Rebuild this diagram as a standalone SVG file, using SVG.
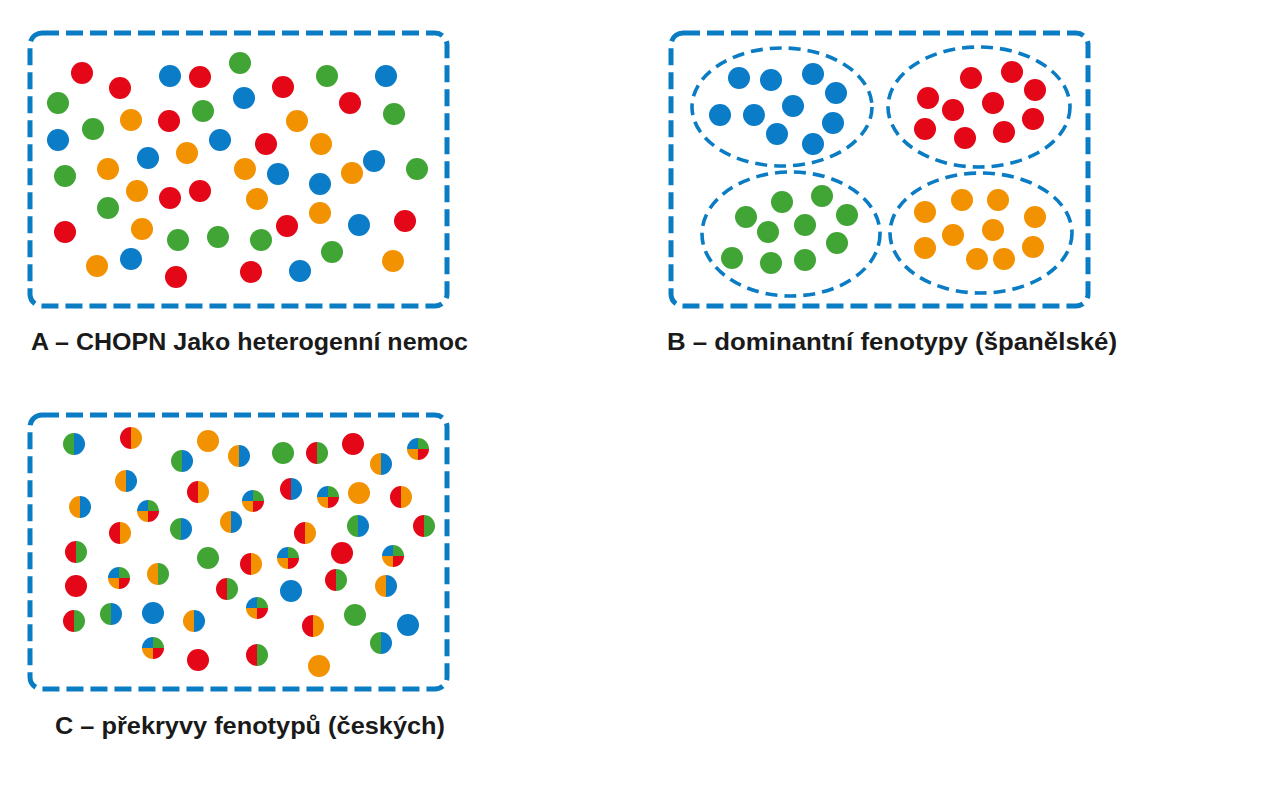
<svg xmlns="http://www.w3.org/2000/svg" xmlns:xlink="http://www.w3.org/1999/xlink" width="1261" height="800" viewBox="0 0 1261 800">
<style>
.frame{fill:none;stroke:#0a7cc4;stroke-width:5;stroke-dasharray:17 7}
.ell{fill:none;stroke:#0a7cc4;stroke-width:3.6;stroke-dasharray:12 7}
.R{fill:#e30717}.B{fill:#0a7cc8}.G{fill:#40a535}.O{fill:#f39200}
.lbl{font-family:"Liberation Sans",Arial,sans-serif;font-weight:bold;font-size:24px;fill:#1a1a1a}
</style>
<defs>
<g id="gb"><path class="G" d="M0,-11A11,11 0 0 0 0,11Z"/><path class="B" d="M0,-11A11,11 0 0 1 0,11Z"/></g>
<g id="ro"><path class="R" d="M0,-11A11,11 0 0 0 0,11Z"/><path class="O" d="M0,-11A11,11 0 0 1 0,11Z"/></g>
<g id="rg"><path class="R" d="M0,-11A11,11 0 0 0 0,11Z"/><path class="G" d="M0,-11A11,11 0 0 1 0,11Z"/></g>
<g id="ob"><path class="O" d="M0,-11A11,11 0 0 0 0,11Z"/><path class="B" d="M0,-11A11,11 0 0 1 0,11Z"/></g>
<g id="rb"><path class="R" d="M0,-11A11,11 0 0 0 0,11Z"/><path class="B" d="M0,-11A11,11 0 0 1 0,11Z"/></g>
<g id="og"><path class="O" d="M0,-11A11,11 0 0 0 0,11Z"/><path class="G" d="M0,-11A11,11 0 0 1 0,11Z"/></g>
<g id="q"><path class="B" d="M0,0L0,-11A11,11 0 0 0 -11,0Z"/><path class="G" d="M0,0L11,0A11,11 0 0 0 0,-11Z"/><path class="O" d="M0,0L-11,0A11,11 0 0 0 0,11Z"/><path class="R" d="M0,0L0,11A11,11 0 0 0 11,0Z"/></g>
</defs>
<rect width="1261" height="800" fill="#fff"/>

<g id="panelA">
<rect class="frame" x="30" y="33" width="417" height="273" rx="12"/>
<circle class="R" cx="82" cy="73" r="11"/>
<circle class="R" cx="120" cy="88" r="11"/>
<circle class="B" cx="170" cy="76" r="11"/>
<circle class="R" cx="200" cy="77" r="11"/>
<circle class="G" cx="240" cy="63" r="11"/>
<circle class="R" cx="283" cy="87" r="11"/>
<circle class="G" cx="327" cy="76" r="11"/>
<circle class="B" cx="386" cy="76" r="11"/>
<circle class="G" cx="58" cy="103" r="11"/>
<circle class="B" cx="244" cy="98" r="11"/>
<circle class="R" cx="350" cy="103" r="11"/>
<circle class="G" cx="394" cy="114" r="11"/>
<circle class="O" cx="131" cy="120" r="11"/>
<circle class="R" cx="169" cy="121" r="11"/>
<circle class="G" cx="203" cy="111" r="11"/>
<circle class="O" cx="297" cy="121" r="11"/>
<circle class="B" cx="58" cy="140" r="11"/>
<circle class="G" cx="93" cy="129" r="11"/>
<circle class="B" cx="220" cy="140" r="11"/>
<circle class="R" cx="266" cy="144" r="11"/>
<circle class="O" cx="321" cy="144" r="11"/>
<circle class="B" cx="148" cy="158" r="11"/>
<circle class="O" cx="187" cy="153" r="11"/>
<circle class="B" cx="374" cy="161" r="11"/>
<circle class="G" cx="417" cy="169" r="11"/>
<circle class="G" cx="65" cy="176" r="11"/>
<circle class="O" cx="108" cy="169" r="11"/>
<circle class="O" cx="245" cy="169" r="11"/>
<circle class="B" cx="278" cy="174" r="11"/>
<circle class="O" cx="352" cy="173" r="11"/>
<circle class="B" cx="320" cy="184" r="11"/>
<circle class="O" cx="137" cy="191" r="11"/>
<circle class="R" cx="170" cy="198" r="11"/>
<circle class="R" cx="200" cy="191" r="11"/>
<circle class="O" cx="257" cy="199" r="11"/>
<circle class="G" cx="108" cy="208" r="11"/>
<circle class="O" cx="320" cy="213" r="11"/>
<circle class="R" cx="287" cy="226" r="11"/>
<circle class="B" cx="359" cy="225" r="11"/>
<circle class="R" cx="405" cy="221" r="11"/>
<circle class="R" cx="65" cy="232" r="11"/>
<circle class="O" cx="142" cy="229" r="11"/>
<circle class="G" cx="178" cy="240" r="11"/>
<circle class="G" cx="218" cy="237" r="11"/>
<circle class="G" cx="261" cy="240" r="11"/>
<circle class="G" cx="332" cy="252" r="11"/>
<circle class="O" cx="97" cy="266" r="11"/>
<circle class="B" cx="131" cy="259" r="11"/>
<circle class="R" cx="176" cy="277" r="11"/>
<circle class="R" cx="251" cy="272" r="11"/>
<circle class="B" cx="300" cy="271" r="11"/>
<circle class="O" cx="393" cy="261" r="11"/>
<text class="lbl" x="31" y="350" textLength="437" lengthAdjust="spacingAndGlyphs">A – CHOPN Jako heterogenní nemoc</text>
</g>

<g id="panelB">
<rect class="frame" x="671" y="33" width="417" height="273" rx="12"/>
<ellipse class="ell" cx="782" cy="107" rx="90" ry="59"/>
<ellipse class="ell" cx="979" cy="107" rx="91" ry="60"/>
<ellipse class="ell" cx="791" cy="234" rx="89" ry="62"/>
<ellipse class="ell" cx="981" cy="233" rx="91" ry="60"/>
<circle class="B" cx="739" cy="78" r="11"/>
<circle class="B" cx="771" cy="80" r="11"/>
<circle class="B" cx="813" cy="74" r="11"/>
<circle class="B" cx="836" cy="93" r="11"/>
<circle class="B" cx="793" cy="106" r="11"/>
<circle class="B" cx="720" cy="115" r="11"/>
<circle class="B" cx="754" cy="115" r="11"/>
<circle class="B" cx="833" cy="123" r="11"/>
<circle class="B" cx="777" cy="134" r="11"/>
<circle class="B" cx="813" cy="144" r="11"/>
<circle class="R" cx="971" cy="78" r="11"/>
<circle class="R" cx="1012" cy="72" r="11"/>
<circle class="R" cx="1035" cy="90" r="11"/>
<circle class="R" cx="928" cy="98" r="11"/>
<circle class="R" cx="953" cy="110" r="11"/>
<circle class="R" cx="993" cy="103" r="11"/>
<circle class="R" cx="1033" cy="119" r="11"/>
<circle class="R" cx="925" cy="129" r="11"/>
<circle class="R" cx="965" cy="138" r="11"/>
<circle class="R" cx="1004" cy="132" r="11"/>
<circle class="G" cx="782" cy="202" r="11"/>
<circle class="G" cx="822" cy="196" r="11"/>
<circle class="G" cx="746" cy="217" r="11"/>
<circle class="G" cx="847" cy="215" r="11"/>
<circle class="G" cx="768" cy="232" r="11"/>
<circle class="G" cx="805" cy="225" r="11"/>
<circle class="G" cx="837" cy="243" r="11"/>
<circle class="G" cx="732" cy="258" r="11"/>
<circle class="G" cx="771" cy="263" r="11"/>
<circle class="G" cx="805" cy="260" r="11"/>
<circle class="O" cx="925" cy="212" r="11"/>
<circle class="O" cx="962" cy="200" r="11"/>
<circle class="O" cx="998" cy="200" r="11"/>
<circle class="O" cx="1035" cy="217" r="11"/>
<circle class="O" cx="953" cy="235" r="11"/>
<circle class="O" cx="993" cy="230" r="11"/>
<circle class="O" cx="925" cy="248" r="11"/>
<circle class="O" cx="1033" cy="247" r="11"/>
<circle class="O" cx="977" cy="259" r="11"/>
<circle class="O" cx="1004" cy="259" r="11"/>
<text class="lbl" x="667" y="350" textLength="450" lengthAdjust="spacingAndGlyphs">B – dominantní fenotypy (španělské)</text>
</g>

<g id="panelC">
<rect class="frame" x="30" y="415" width="417" height="274" rx="12"/>
<use xlink:href="#gb" x="74" y="444"/>
<use xlink:href="#ro" x="131" y="438"/>
<circle class="O" cx="208" cy="441" r="11"/>
<use xlink:href="#gb" x="182" y="461"/>
<use xlink:href="#ob" x="239" y="456"/>
<circle class="G" cx="283" cy="453" r="11"/>
<use xlink:href="#rg" x="317" y="453"/>
<circle class="R" cx="353" cy="444" r="11"/>
<use xlink:href="#ob" x="381" y="464"/>
<use xlink:href="#q" x="418" y="449"/>
<use xlink:href="#ob" x="126" y="481"/>
<use xlink:href="#ro" x="198" y="492"/>
<use xlink:href="#q" x="253" y="501"/>
<use xlink:href="#rb" x="291" y="489"/>
<use xlink:href="#q" x="328" y="497"/>
<circle class="O" cx="359" cy="493" r="11"/>
<use xlink:href="#ro" x="401" y="497"/>
<use xlink:href="#ob" x="80" y="507"/>
<use xlink:href="#q" x="148" y="511"/>
<use xlink:href="#gb" x="181" y="529"/>
<use xlink:href="#ob" x="231" y="522"/>
<use xlink:href="#ro" x="305" y="533"/>
<use xlink:href="#gb" x="358" y="526"/>
<use xlink:href="#rg" x="424" y="526"/>
<use xlink:href="#ro" x="120" y="533"/>
<use xlink:href="#rg" x="76" y="552"/>
<circle class="G" cx="208" cy="558" r="11"/>
<use xlink:href="#ro" x="251" y="564"/>
<use xlink:href="#q" x="288" y="558"/>
<circle class="R" cx="342" cy="553" r="11"/>
<use xlink:href="#q" x="393" y="556"/>
<use xlink:href="#q" x="119" y="578"/>
<use xlink:href="#og" x="158" y="574"/>
<circle class="R" cx="76" cy="586" r="11"/>
<use xlink:href="#rg" x="227" y="589"/>
<use xlink:href="#rg" x="336" y="580"/>
<circle class="B" cx="291" cy="591" r="11"/>
<use xlink:href="#ob" x="386" y="586"/>
<use xlink:href="#rg" x="74" y="621"/>
<use xlink:href="#gb" x="111" y="614"/>
<circle class="B" cx="153" cy="613" r="11"/>
<use xlink:href="#ob" x="194" y="621"/>
<use xlink:href="#q" x="257" y="608"/>
<circle class="G" cx="355" cy="615" r="11"/>
<circle class="B" cx="408" cy="625" r="11"/>
<use xlink:href="#ro" x="313" y="626"/>
<use xlink:href="#gb" x="381" y="643"/>
<use xlink:href="#q" x="153" y="648"/>
<circle class="R" cx="198" cy="660" r="11"/>
<use xlink:href="#rg" x="257" y="655"/>
<circle class="O" cx="319" cy="666" r="11"/>
<text class="lbl" x="55" y="734" textLength="390" lengthAdjust="spacingAndGlyphs">C – překryvy fenotypů (českých)</text>
</g>
</svg>
